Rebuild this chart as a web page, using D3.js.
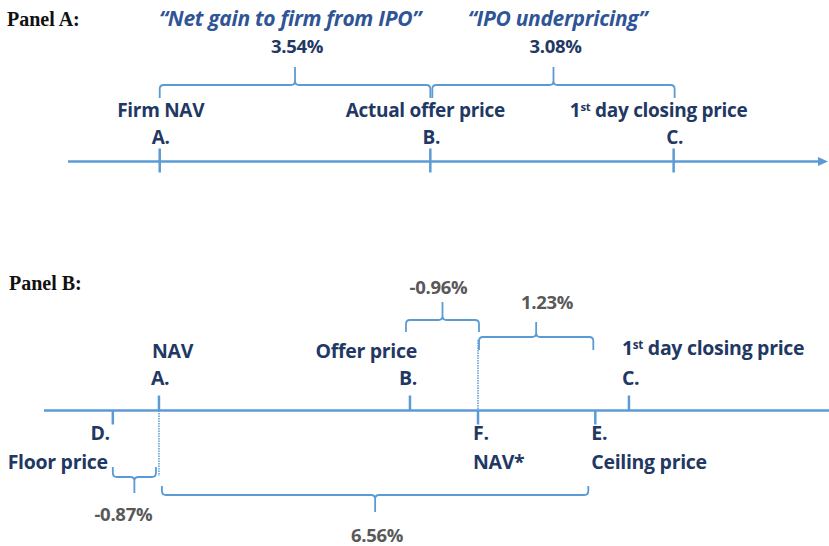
<!DOCTYPE html>
<html>
<head>
<meta charset="utf-8">
<script src="https://cdn.jsdelivr.net/npm/d3@7"></script>
<style>
  body { margin: 0; background: #fff; }
  svg { display: block; }
</style>
</head>
<body>
<script>
// Panel A data
const panelALetters = ["A.", "B.", "C."];
const panelANames = ["Firm NAV", "Actual offer price", "1st day closing price"];
const panelAPos = [12.1, 47.8, 79.9];
const panelABraceFrom = ["A.", "B."];
const panelABraceTo = ["B.", "C."];
const panelABraceValues = ["3.54%", "3.08%"];
const panelABraceCaptions = ["\u201cNet gain to firm from IPO\u201d", "\u201cIPO underpricing\u201d"];

// Panel B data
const panelBLetters = ["D.", "A.", "B.", "F.", "E.", "C."];
const panelBNames = ["Floor price", "NAV", "Offer price", "NAV*", "Ceiling price", "1st day closing price"];
const panelBPos = [8.8, 14.7, 46.8, 55.5, 70.5, 74.8];
const panelBSide = ["below", "above", "above", "below", "below", "above"];
const panelBBraceFrom = ["B.", "F.", "D.", "A."];
const panelBBraceTo = ["F.", "E.", "A.", "E."];
const panelBBraceValues = ["-0.96%", "1.23%", "-0.87%", "6.56%"];

//Variables
const width = 829;
const height = 546;
const lineColor = "#5b9bd5";
const labelColor = "#1f3864";
const font = "'Open Sans', sans-serif";

const svg = d3.select("body")
  .append("svg")
  .attr("width", width)
  .attr("height", height);

const xA = d3.scaleLinear().domain([0, 100]).range([68, 826]);
const xB = d3.scaleLinear().domain([0, 100]).range([44, 826]);

// brace: horizontal bar at y, ends bend toward endY, tip points to tipY
function bracePath(x1, x2, y, endY, tipY) {
  const r = 4;
  const d1 = Math.sign(endY - y);
  const d2 = Math.sign(tipY - y);
  const xm = (x1 + x2) / 2;
  return `M${x1},${endY} L${x1},${y + d1 * r} Q${x1},${y} ${x1 + r},${y}` +
    ` L${xm - r},${y} Q${xm},${y} ${xm},${y + d2 * r} L${xm},${tipY}` +
    ` M${xm},${y + d2 * r} Q${xm},${y} ${xm + r},${y}` +
    ` L${x2 - r},${y} Q${x2},${y} ${x2},${y + d1 * r} L${x2},${endY}`;
}

function addName(g, text, x, y, anchor, size) {
  const t = g.append("text")
    .attr("x", x).attr("y", y)
    .attr("text-anchor", anchor)
    .attr("font-family", font)
    .attr("font-weight", 700)
    .attr("font-size", size)
    .attr("letter-spacing", -0.3)
    .attr("fill", labelColor);
  if (text.startsWith("1st")) {
    t.append("tspan").text("1");
    t.append("tspan").attr("font-size", size * 0.6).attr("dy", -size * 0.32).text("st");
    t.append("tspan").attr("dy", size * 0.32).text(text.slice(3));
  } else {
    t.text(text);
  }
  return t;
}

// Panel titles
svg.append("text").attr("x", 7).attr("y", 26)
  .attr("font-family", "'Liberation Serif', 'Times New Roman', serif")
  .attr("font-weight", 700).attr("font-size", 20).attr("fill", "#111")
  .text("Panel A:");
svg.append("text").attr("x", 9).attr("y", 290)
  .attr("font-family", "'Liberation Serif', 'Times New Roman', serif")
  .attr("font-weight", 700).attr("font-size", 20).attr("fill", "#111")
  .text("Panel B:");

// ---------- Panel A ----------
const gA = svg.append("g");
const axisYA = 161.5;
const posA = {};
panelALetters.forEach((l, i) => posA[l] = xA(panelAPos[i]));

gA.append("line")
  .attr("x1", xA(0)).attr("x2", xA(100) - 6)
  .attr("y1", axisYA).attr("y2", axisYA)
  .attr("stroke", lineColor).attr("stroke-width", 2.5);
gA.append("path")
  .attr("d", `M${xA(100) - 8},${axisYA - 4.5} L${xA(100) + 2},${axisYA} L${xA(100) - 8},${axisYA + 4.5} Z`)
  .attr("fill", lineColor);

gA.selectAll(".tick")
  .data(panelALetters)
  .enter()
  .append("line")
  .attr("x1", d => posA[d]).attr("x2", d => posA[d])
  .attr("y1", axisYA - 13).attr("y2", axisYA + 11)
  .attr("stroke", lineColor).attr("stroke-width", 2.5);

const nameDxA = [1, -5, -15];
panelALetters.forEach((l, i) => {
  addName(gA, panelANames[i], posA[l] + nameDxA[i], 117, "middle", 19);
  addName(gA, l, posA[l] + 1, 144, "middle", 19);
});

const braceAOff = [[0, 0], [2, 1]];
panelABraceValues.forEach((v, i) => {
  const x1 = posA[panelABraceFrom[i]] + braceAOff[i][0];
  const x2 = posA[panelABraceTo[i]] + braceAOff[i][1];
  const xm = (x1 + x2) / 2;
  gA.append("path")
    .attr("d", bracePath(x1, x2, 85, 98, 67))
    .attr("fill", "none").attr("stroke", lineColor).attr("stroke-width", 1.8);
  gA.append("text").attr("x", xm + 2).attr("y", 53)
    .attr("text-anchor", "middle").attr("font-family", font)
    .attr("font-weight", 700).attr("font-size", 18.5).attr("letter-spacing", -0.3)
    .attr("fill", labelColor)
    .text(v);
  gA.append("text").attr("x", xm - 5 + i * 9).attr("y", 26)
    .attr("text-anchor", "middle").attr("font-family", font)
    .attr("font-style", "italic").attr("font-weight", 700)
    .attr("font-size", 21).attr("letter-spacing", -0.3).attr("fill", "#2f5597")
    .text(panelABraceCaptions[i]);
});

// ---------- Panel B ----------
const gB = svg.append("g");
const axisYB = 410.5;
const posB = {};
panelBLetters.forEach((l, i) => posB[l] = xB(panelBPos[i]));

gB.append("line")
  .attr("x1", xB(0)).attr("x2", width)
  .attr("y1", axisYB).attr("y2", axisYB)
  .attr("stroke", lineColor).attr("stroke-width", 2.5);

gB.selectAll(".tick")
  .data(panelBLetters)
  .enter()
  .append("line")
  .attr("x1", d => posB[d]).attr("x2", d => posB[d])
  .attr("y1", axisYB)
  .attr("y2", (d, i) => panelBSide[i] === "above" ? axisYB - 15 : axisYB + 14)
  .attr("stroke", lineColor).attr("stroke-width", 2.5);

// dotted guides from A down and from F up
gB.append("line")
  .attr("x1", posB["A."]).attr("x2", posB["A."])
  .attr("y1", axisYB).attr("y2", 476)
  .attr("stroke", lineColor).attr("stroke-width", 1.5).attr("stroke-dasharray", "1.5,1");
gB.append("line")
  .attr("x1", posB["F."]).attr("x2", posB["F."])
  .attr("y1", 340).attr("y2", axisYB)
  .attr("stroke", lineColor).attr("stroke-width", 1.5).attr("stroke-dasharray", "1.5,1");

// label layout: [anchor, dx letter, dx name]
const layoutB = {
  "D.": ["end", -3, -5],
  "A.": ["start", -8, -7],
  "B.": ["end", 7, 7],
  "F.": ["start", -5, -5],
  "E.": ["start", -4, -4],
  "C.": ["start", -7, -7]
};
panelBLetters.forEach((l, i) => {
  const [anchor, dxL, dxN] = layoutB[l];
  if (panelBSide[i] === "above") {
    addName(gB, panelBNames[i], posB[l] + dxN, l === "C." ? 355 : 358, anchor, 19.5);
    addName(gB, l, posB[l] + dxL, 385, anchor, 19.5);
  } else {
    addName(gB, l, posB[l] + dxL, 440, anchor, 19.5);
    addName(gB, panelBNames[i], posB[l] + dxN, 469, anchor, 19.5);
  }
});

// brace layout: [offFrom, offTo, y, endY, tipY, labelY, labelDx]
const braceBLayout = [
  [-4, 1, 320, 332, 302, 294, -4],
  [1, -2, 337, 350, 322, 309, 11],
  [0, -3, 477, 467, 493, 521, -11],
  [3, -7, 495, 486, 512, 542, 2]
];
panelBBraceValues.forEach((v, i) => {
  const [o1, o2, y, endY, tipY, ly, ldx] = braceBLayout[i];
  const x1 = posB[panelBBraceFrom[i]] + o1;
  const x2 = posB[panelBBraceTo[i]] + o2;
  const xm = (x1 + x2) / 2;
  gB.append("path")
    .attr("d", bracePath(x1, x2, y, endY, tipY))
    .attr("fill", "none").attr("stroke", lineColor).attr("stroke-width", 1.8);
  gB.append("text").attr("x", xm + ldx).attr("y", ly)
    .attr("text-anchor", "middle").attr("font-family", font)
    .attr("font-weight", 700).attr("font-size", 18.5).attr("letter-spacing", -0.3)
    .attr("fill", "#595959")
    .text(v);
});
</script>
</body>
</html>
